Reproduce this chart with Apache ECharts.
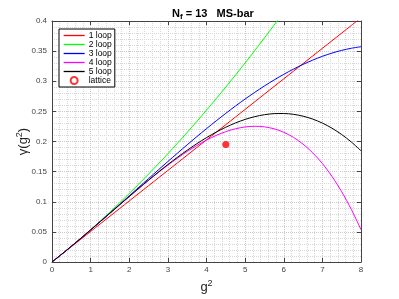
<!DOCTYPE html>
<html><head><meta charset="utf-8">
<script src="https://cdn.jsdelivr.net/npm/echarts@6/dist/echarts.min.js"></script>
<style>html,body{margin:0;padding:0;background:#fff}#c{width:399px;height:299px}</style>
</head><body><div id="c"></div>
<script>
const xVals = [0,0.25,0.5,0.75,1,1.25,1.5,1.75,2,2.25,2.5,2.75,3,3.25,3.5,3.75,4,4.25,4.5,4.75,5,5.25,5.5,5.75,6,6.25,6.5,6.75,7,7.25,7.5,7.75,8];
const loop1 = [0,0.01267,0.02533,0.03800,0.05066,0.06333,0.07599,0.08866,0.10132,0.11399,0.12665,0.13932,0.15198,0.16465,0.17731,0.18998,0.20264,0.21531,0.22797,0.24064,0.25330,0.26597,0.27863,0.29130,0.30396,0.31663,0.32929,0.34196,0.35462,0.36729,0.37995,0.39262,0.40528];
const loop2 = [0,0.01286,0.02610,0.03973,0.05374,0.06814,0.08293,0.09810,0.11365,0.12960,0.14592,0.16263,0.17973,0.19722,0.21508,0.23334,0.25198,0.27100,0.29041,0.31021,0.33039,0.35095,0.37191,0.39324,0.41497,0.43707,0.45957,0.48244,0.50571,0.52936,0.55339,0.57781,0.60262];
const loop3 = [0,0.01285,0.02604,0.03953,0.05326,0.06721,0.08131,0.09553,0.10982,0.12414,0.13844,0.15267,0.16679,0.18077,0.19454,0.20807,0.22131,0.23422,0.24675,0.25885,0.27049,0.28161,0.29218,0.30214,0.31146,0.32008,0.32797,0.33507,0.34135,0.34675,0.35124,0.35476,0.35728];
const loop4 = [0,0.01285,0.02604,0.03950,0.05319,0.06702,0.08094,0.09483,0.10863,0.12224,0.13554,0.14843,0.16079,0.17249,0.18341,0.19340,0.20233,0.21003,0.21634,0.22111,0.22415,0.22528,0.22433,0.22109,0.21536,0.20694,0.19561,0.18114,0.16332,0.14189,0.11663,0.08727,0.05358];
const loop5 = [0,0.01285,0.02604,0.03951,0.05319,0.06704,0.08097,0.09490,0.10876,0.12247,0.13593,0.14906,0.16176,0.17395,0.18551,0.19637,0.20642,0.21557,0.22372,0.23078,0.23665,0.24124,0.24447,0.24624,0.24647,0.24510,0.24203,0.23720,0.23056,0.22203,0.21157,0.19913,0.18468];
const latticeX = [4.5];
const latticeY = [0.195];
const seriesNames = ['1 loop','2 loop','3 loop','4 loop','5 loop'];
const xTickLabels = ['0','1','2','3','4','5','6','7','8'];
const yTickLabels = ['0','0.05','0.1','0.15','0.2','0.25','0.3','0.35','0.4'];

const colors = ['#ff0000','#00ff00','#0000ff','#ff00ff','#000000'];
const loops = [loop1, loop2, loop3, loop4, loop5];
const font = 'Liberation Sans, Helvetica, Arial, sans-serif';
const axisColor = '#444';

function pairs(ys){ return xVals.map((x,i)=>[x, ys[i]]); }

const lineSeries = loops.map((ys,k)=>({
  name: seriesNames[k], type:'line', data: pairs(ys), smooth: 0.3,
  symbol:'none', clip:true, lineStyle:{color:colors[k], width:1}, itemStyle:{color:colors[k]},
  z: 2 + k
}));

const chart = echarts.init(document.getElementById('c'), null, {renderer:'canvas'});
chart.setOption({
  animation:false,
  backgroundColor:'#fff',
  textStyle:{fontFamily:font},
  title:{
    text:'N{sub|f} = 13   MS-bar', left:167, top:2,
    textStyle:{fontSize:11, fontWeight:'bold', color:'#000', fontFamily:font,
      rich:{sub:{fontSize:8, fontWeight:'bold', verticalAlign:'bottom', padding:[6,0,0,0], fontFamily:font}}}
  },
  legend:{
    orient:'vertical', left:59, top:29, padding:[2,3,2,4], itemGap:0,
    itemWidth:21, itemHeight:7, backgroundColor:'#fff', borderColor:'#000', borderWidth:1,
    borderRadius:0, lineStyle:{width:1.3},
    textStyle:{fontSize:8.5, lineHeight:8.5, color:'#000', fontFamily:font, padding:[0,0,0,-1]},
    data: seriesNames.map(n=>({name:n, itemStyle:{opacity:0, borderWidth:0}})).concat([{name:'lattice', icon:'circle',
      itemStyle:{color:'#fff', borderColor:'#ff0000', borderWidth:2}}])
  },
  grid:{left:52, top:21, right:38, bottom:33, containLabel:false},
  xAxis:[{
    type:'value', min:0, max:8, interval:1,
    name:'g{sup|2}', nameLocation:'middle', nameGap:17, nameMoveOverlap:false,
    nameTextStyle:{fontSize:13, color:'#222', fontFamily:font,
      rich:{sup:{fontSize:9, verticalAlign:'top', padding:[0,0,8,0], color:'#222'}}},
    axisLine:{show:true, lineStyle:{color:axisColor, width:1}},
    axisTick:{show:true, inside:true, length:4, lineStyle:{color:axisColor}},
    axisLabel:{fontSize:8, color:'#444', margin:4, formatter:v=>xTickLabels[Math.round(v)]},
    splitLine:{show:true, lineStyle:{type:'dotted', color:'#c8c8c8', width:1}},
    minorTick:{show:false, splitNumber:5},
    minorSplitLine:{show:true, lineStyle:{type:'dotted', color:'#d8d8d8', width:1}}
  },{
    type:'value', min:0, max:8, interval:1, position:'top',
    axisLine:{show:true, onZero:false, lineStyle:{color:axisColor, width:1}},
    axisTick:{show:true, inside:true, length:4, lineStyle:{color:axisColor}},
    axisLabel:{show:false}, splitLine:{show:false}
  }],
  yAxis:[{
    type:'value', min:0, max:0.4, interval:0.05,
    name:'\u03b3(g{sup|2})', nameLocation:'middle', nameGap:20, nameMoveOverlap:false,
    nameTextStyle:{fontSize:13, color:'#222', fontFamily:font,
      rich:{sup:{fontSize:9, verticalAlign:'top', padding:[0,0,8,0], color:'#222'}}},
    axisLine:{show:true, lineStyle:{color:axisColor, width:1}},
    axisTick:{show:true, inside:true, length:4, lineStyle:{color:axisColor}},
    axisLabel:{fontSize:8, color:'#444', margin:5, formatter:v=>yTickLabels[Math.round(v/0.05)]},
    splitLine:{show:true, lineStyle:{type:'dotted', color:'#c8c8c8', width:1}},
    minorTick:{show:false, splitNumber:5},
    minorSplitLine:{show:true, lineStyle:{type:'dotted', color:'#d8d8d8', width:1}}
  },{
    type:'value', min:0, max:0.4, interval:0.05, position:'right',
    axisLine:{show:true, onZero:false, lineStyle:{color:axisColor, width:1}},
    axisTick:{show:true, inside:true, length:4, lineStyle:{color:axisColor}},
    axisLabel:{show:false}, splitLine:{show:false}
  }],
  series: lineSeries.concat([{
    name:'lattice', type:'scatter', data: latticeX.map((x,i)=>[x, latticeY[i]]),
    symbol:'circle', symbolSize:7, itemStyle:{color:'#ff0000'}, z:10
  }])
});
</script></body></html>
